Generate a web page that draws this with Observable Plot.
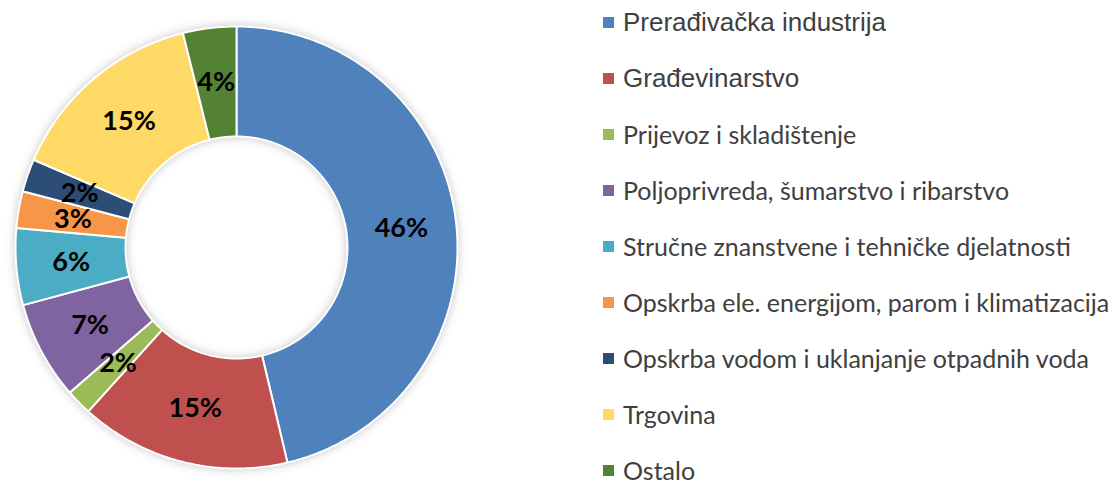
<!DOCTYPE html>
<html>
<head>
<meta charset="utf-8">
<script src="https://cdn.jsdelivr.net/npm/d3@7"></script>
<script src="https://cdn.jsdelivr.net/npm/@observablehq/plot@0.6"></script>
<style>
  html, body { margin: 0; padding: 0; background: #fff; }
  #wrap { position: relative; width: 1110px; height: 480px; overflow: hidden; }
  #chart { position: absolute; left: 0; top: 0; }
  #chart g[aria-label="line"] { filter: drop-shadow(0 0 5px rgba(0,0,0,0.22)); }
  .item { position: absolute; left: 603px; height: 56px; display: flex; align-items: center; white-space: nowrap; color: #404040; }
  .sw { width: 11px; height: 11px; margin-right: 9px; flex: none; }
  .arial { font-family: "Liberation Sans", Arial, sans-serif; font-size: 26px; }
  .cal { font-family: Lato, "Open Sans", sans-serif; font-size: 25px; }
</style>
</head>
<body>
<div id="wrap"><div id="chart"></div><div id="legend"></div></div>
<script>
const categories = [
  "Prerađivačka industrija",
  "Građevinarstvo",
  "Prijevoz i skladištenje",
  "Poljoprivreda, šumarstvo i ribarstvo",
  "Stručne znanstvene i tehničke djelatnosti",
  "Opskrba ele. energijom, parom i klimatizacija",
  "Opskrba vodom i uklanjanje otpadnih voda",
  "Trgovina",
  "Ostalo"
];
const values = [46.3, 15.4, 1.9, 7.2, 5.6, 2.7, 2.4, 14.6, 3.9];
const labels = ["46%", "15%", "2%", "7%", "6%", "3%", "2%", "15%", "4%"];
const colors = ["#4F81BD", "#C0504D", "#9BBB59", "#8064A2", "#4BACC6", "#F79646", "#2C4D75", "#FFD966", "#548235"];

// geometry (pixels)
const W = 480, H = 480, CX = 236, CY = 247, R = 221, RIN = 111;
const inner = RIN / R;

const total = d3.sum(values);
const slices = [];
const pts = [];
let acc = 0;
categories.forEach((name, i) => {
  const a0 = acc / total * 2 * Math.PI;
  acc += values[i];
  const a1 = acc / total * 2 * Math.PI;
  const n = Math.max(4, Math.ceil((a1 - a0) / 0.01));
  for (let k = 0; k <= n; k++) {
    const a = a0 + (a1 - a0) * k / n;
    pts.push({name, x: Math.sin(a), y: Math.cos(a)});
  }
  for (let k = n; k >= 0; k--) {
    const a = a0 + (a1 - a0) * k / n;
    pts.push({name, x: inner * Math.sin(a), y: inner * Math.cos(a)});
  }
  const am = (a0 + a1) / 2, rm = (1 + inner) / 2;
  slices.push({name, label: labels[i], x: rm * Math.sin(am), y: rm * Math.cos(am)});
});

const chart = Plot.plot({
  width: W, height: H,
  margin: 0,
  x: {domain: [-CX / R, (W - CX) / R], axis: null},
  y: {domain: [-(H - CY) / R, CY / R], axis: null},
  color: {domain: categories, range: colors},
  marks: [
    Plot.line(pts, {x: "x", y: "y", z: "name", fill: "name", stroke: "#fff", strokeWidth: 2, curve: "linear-closed", strokeLinejoin: "miter"}),
    Plot.text(slices, {x: "x", y: "y", text: "label", fill: "#000", fontSize: 27, fontWeight: "bold", fontFamily: "Lato, 'Open Sans', sans-serif"})
  ]
});
document.getElementById("chart").appendChild(chart);

const legend = document.getElementById("legend");
categories.forEach((name, i) => {
  const row = document.createElement("div");
  row.className = "item " + (i < 2 ? "arial" : "cal");
  row.style.top = (i * 56 - 6) + "px";
  const sw = document.createElement("span");
  sw.className = "sw";
  sw.style.background = colors[i];
  const tx = document.createElement("span");
  tx.textContent = name;
  row.appendChild(sw);
  row.appendChild(tx);
  legend.appendChild(row);
});
</script>
</body>
</html>
